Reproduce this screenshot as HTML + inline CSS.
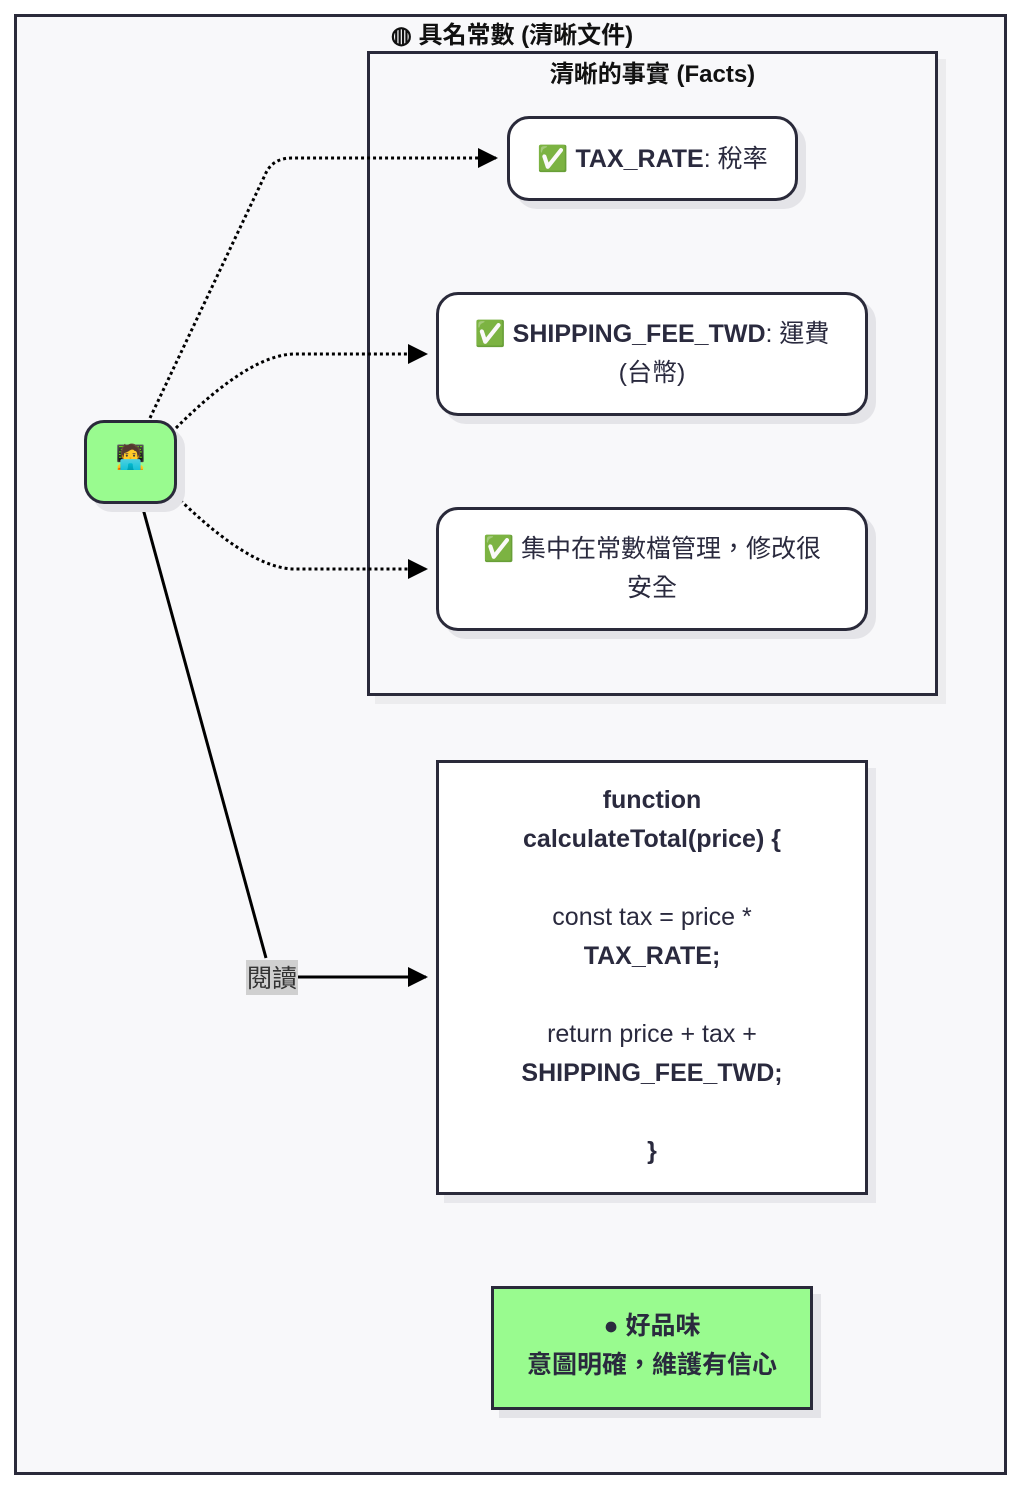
<!DOCTYPE html>
<html><head><meta charset="utf-8"><style>
body{margin:0;width:1024px;height:1494px;background:#fff;position:relative;font-family:"Liberation Sans","Noto Sans CJK TC",sans-serif;color:#2a2a3e;overflow:hidden}
.a{position:absolute;box-sizing:border-box}
.t{position:absolute;text-align:center;white-space:nowrap}
</style></head><body>
<div class="a" style="left:14px;top:14px;width:993px;height:1461px;border:3px solid #2a2a3a;background:#f8f8fa"></div>
<div class="t" style="left:0;width:1024px;top:15px;font-size:24px;font-weight:bold;color:#111">◍ 具名常數 (清晰文件)</div>
<div class="a" style="left:375px;top:59px;width:571px;height:645px;background:#ececee"></div>
<div class="a" style="left:367px;top:51px;width:571px;height:645px;border:3px solid #2a2a3a;background:#f8f8fa"></div>
<div class="t" style="left:367px;width:571px;top:54px;font-size:24px;font-weight:bold;color:#111">清晰的事實 (Facts)</div>

<div class="a" style="left:515px;top:124px;width:291px;height:85px;border-radius:22px;background:#e4e4e8"></div>
<div class="a" style="left:507px;top:116px;width:291px;height:85px;border-radius:22px;border:3px solid #2a2a3a;background:#fff"></div>
<div class="t" style="left:507px;width:291px;top:139px;font-size:25px"><span style="color:#4caf50">✅</span> <b>TAX_RATE</b>: 稅率</div>

<div class="a" style="left:444px;top:300px;width:432px;height:124px;border-radius:22px;background:#e4e4e8"></div>
<div class="a" style="left:436px;top:292px;width:432px;height:124px;border-radius:22px;border:3px solid #2a2a3a;background:#fff"></div>
<div class="t" style="left:436px;width:432px;top:315px;font-size:25px;line-height:39px">✅ <b>SHIPPING_FEE_TWD</b>: 運費<br>(台幣)</div>

<div class="a" style="left:444px;top:515px;width:432px;height:124px;border-radius:22px;background:#e4e4e8"></div>
<div class="a" style="left:436px;top:507px;width:432px;height:124px;border-radius:22px;border:3px solid #2a2a3a;background:#fff"></div>
<div class="t" style="left:436px;width:432px;top:530px;font-size:25px;line-height:39px">✅ 集中在常數檔管理，修改很<br>安全</div>

<div class="a" style="left:444px;top:768px;width:432px;height:435px;background:#e8e8ec"></div>
<div class="a" style="left:436px;top:760px;width:432px;height:435px;border:3px solid #2a2a3a;background:#fff"></div>
<div class="t" style="left:436px;width:432px;top:781px;font-size:25px;line-height:39px"><b>function<br>calculateTotal(price) {</b><br><br>const tax = price *<br><b>TAX_RATE;</b><br><br>return price + tax +<br><b>SHIPPING_FEE_TWD;</b><br><br><b>}</b></div>

<div class="a" style="left:499px;top:1294px;width:322px;height:124px;background:#e4e4e8"></div>
<div class="a" style="left:491px;top:1286px;width:322px;height:124px;border:3px solid #2a2a3a;background:#99fb8f"></div>
<div class="t" style="left:491px;width:322px;top:1307px;font-size:25px;line-height:39px;font-weight:bold">● 好品味<br>意圖明確，維護有信心</div>

<svg class="a" style="left:0;top:0" width="1024" height="1494">
<defs>
<marker id="M" viewBox="0 0 10 10" refX="9" refY="5" markerWidth="20" markerHeight="20" orient="auto" markerUnits="userSpaceOnUse"><path d="M0,0L10,5L0,10z" fill="#000"/></marker></defs>
<g fill="none" stroke="#000" stroke-width="3" stroke-dasharray="3 3">
<path d="M150,418 L265,175 Q272,158 292,158 L496,158" marker-end="url(#M)"/>
<path d="M176,428 Q250,354 295,354 L426,354" marker-end="url(#M)"/>
<path d="M176,496 Q250,569 295,569 L426,569" marker-end="url(#M)"/>
</g>
<path d="M142,505 L266,958" stroke="#000" stroke-width="3"/>
<path d="M297,977 L426,977" stroke="#000" stroke-width="3" marker-end="url(#M)"/>
</svg>
<div class="a" style="left:246px;top:960px;width:52px;height:35px;background:#d0d0d0"></div>
<div class="t" style="left:246px;width:52px;top:959px;font-size:25px;color:#333">閱讀</div>

<div class="a" style="left:92px;top:428px;width:93px;height:84px;border-radius:20px;background:#e4e4e8"></div>
<div class="a" style="left:84px;top:420px;width:93px;height:84px;border-radius:20px;border:3px solid #2a2a3a;background:#99fb8f"></div>
<div class="t" style="left:84px;width:93px;top:443px;font-size:24px">🧑‍💻</div>
</body></html>
